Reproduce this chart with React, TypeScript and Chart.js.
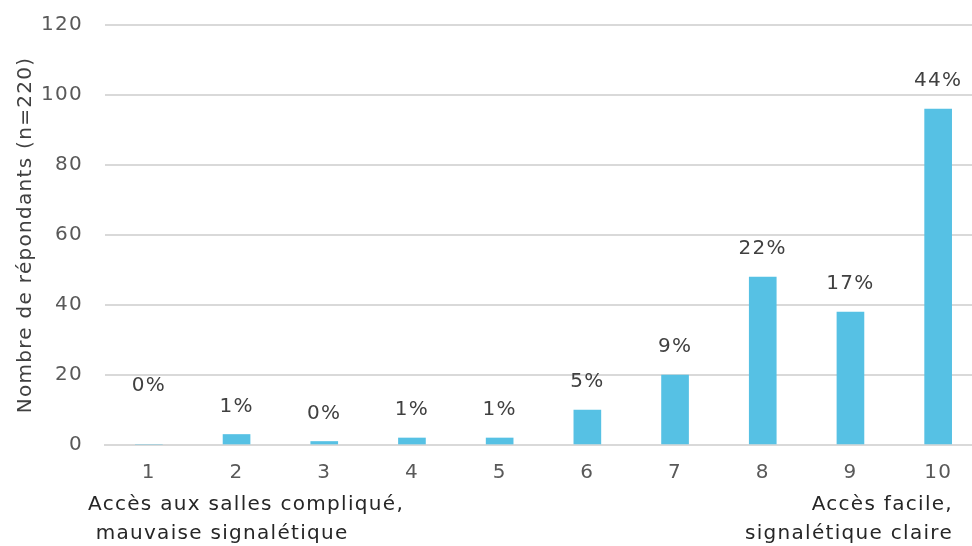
import React, { useEffect, useRef } from "react";
import { Chart, registerables } from "chart.js";

Chart.register(...registerables);

const categories = ["1", "2", "3", "4", "5", "6", "7", "8", "9", "10"];
const respondents = [0, 3, 1, 2, 2, 10, 20, 48, 38, 96];
const percentLabels = ["0%", "1%", "0%", "1%", "1%", "5%", "9%", "22%", "17%", "44%"];
const yTitle = "Nombre de répondants (n=220)";
const leftNote = ["Accès aux salles compliqué,", " mauvaise signalétique"];
const rightNote = ["Accès facile,", "signalétique claire"];

const FONT = "'DejaVu Sans', sans-serif";
const SPACING = "1.3px";

const spacingPlugin = {
  id: "spacing",
  beforeLayout(chart: any) {
    chart.ctx.letterSpacing = SPACING;
  },
  beforeDraw(chart: any) {
    chart.ctx.letterSpacing = SPACING;
  },
};

const labelPlugin = {
  id: "labels",
  afterDatasetsDraw(chart: any) {
    const ctx = chart.ctx;
    const meta = chart.getDatasetMeta(0);
    ctx.save();
    ctx.letterSpacing = SPACING;
    ctx.font = `20px ${FONT}`;
    ctx.fillStyle = "#404040";
    ctx.textAlign = "center";
    ctx.textBaseline = "middle";
    meta.data.forEach((bar: any, i: number) => {
      const lift = i === 0 ? 59 : 28;
      ctx.fillText(percentLabels[i], bar.x, bar.y - lift);
    });
    // bottom notes
    ctx.fillStyle = "#262626";
    ctx.textAlign = "left";
    ctx.fillText(leftNote[0], 88, 505);
    ctx.fillText(leftNote[1], 88, 534);
    ctx.textAlign = "right";
    ctx.fillText(rightNote[0], 953, 505);
    ctx.fillText(rightNote[1], 953, 534);
    ctx.restore();
  },
};

export default function App() {
  const ref = useRef<HTMLCanvasElement>(null);
  useEffect(() => {
    if (!ref.current) return;
    const chart = new Chart(ref.current, {
      type: "bar",
      data: {
        labels: categories,
        datasets: [
          {
            data: respondents,
            backgroundColor: "#56c1e4",
            barThickness: 27,
          },
        ],
      },
      options: {
        animation: false,
        responsive: false,
        maintainAspectRatio: false,
        layout: { padding: { top: 25, right: 8, left: 0, bottom: 0 } },
        plugins: { legend: { display: false }, tooltip: { enabled: false } },
        scales: {
          x: {
            grid: { display: false, drawTicks: false },
            border: { display: true, color: "#d9d9d9", width: 2 },
            ticks: { color: "#595959", font: { family: FONT, size: 20 }, padding: 16 },
            afterFit(scale: any) {
              scale.height = 101;
              scale.paddingLeft = 0;
              scale.paddingRight = 0;
            },
          },
          y: {
            min: 0,
            max: 120,
            grid: { color: "#d9d9d9", lineWidth: 2, drawTicks: false },
            border: { display: false },
            ticks: {
              stepSize: 20,
              color: "#595959",
              font: { family: FONT, size: 20 },
              padding: 22,
            },
            title: {
              display: true,
              text: yTitle,
              color: "#404040",
              font: { family: FONT, size: 20 },
              padding: { top: 14, bottom: 0 },
            },
            afterFit(scale: any) {
              scale.width = 105;
              scale.paddingTop = 0;
              scale.paddingBottom = 0;
            },
          },
        },
      },
      plugins: [spacingPlugin, labelPlugin],
    });
    return () => chart.destroy();
  }, []);
  return (
    <div
      style={{
        position: "absolute",
        left: 0,
        top: 0,
        width: 972,
        height: 546,
        overflow: "hidden",
        background: "#fff",
      }}
    >
      <canvas ref={ref} width={990} height={546} style={{ display: "block" }} />
    </div>
  );
}
